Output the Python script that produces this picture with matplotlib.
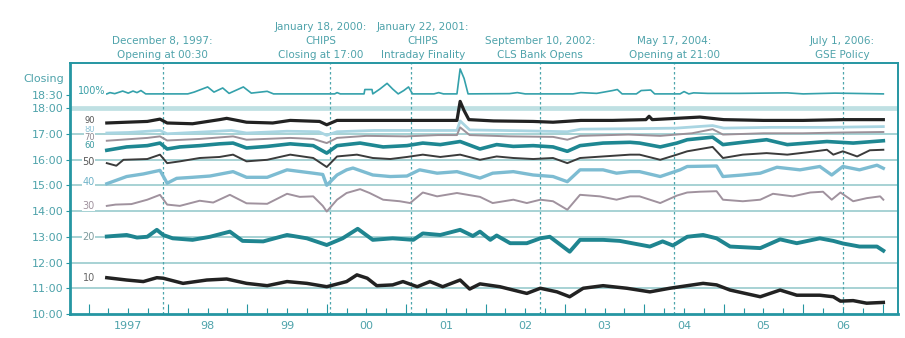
import matplotlib
matplotlib.use("Agg")
import matplotlib.pyplot as plt
import pandas as pd
from matplotlib.ticker import MultipleLocator

# ---- data: decimal year vs clock time (hours) of payment percentiles ----
p10_t = [1997.23, 1997.48, 1997.69, 1997.86, 1997.94, 1998.19, 1998.49, 1998.74, 1998.99, 1999.25,
         1999.50, 1999.75, 2000.00, 2000.25, 2000.38, 2000.51, 2000.63, 2000.83, 2000.96, 2001.14,
         2001.30, 2001.46, 2001.68, 2001.80, 2001.93, 2002.18, 2002.52, 2002.69, 2002.90, 2003.06,
         2003.23, 2003.48, 2003.78, 2004.07, 2004.32, 2004.54, 2004.74, 2004.91, 2005.08, 2005.46,
         2005.71, 2005.92, 2006.21, 2006.38, 2006.47, 2006.63, 2006.80, 2007.01]
p10_h = [11.41, 11.32, 11.26, 11.41, 11.39, 11.19, 11.32, 11.36, 11.19, 11.10,
         11.26, 11.19, 11.06, 11.26, 11.52, 11.39, 11.10, 11.13, 11.26, 11.06,
         11.26, 11.06, 11.32, 10.97, 11.17, 11.06, 10.80, 11.00, 10.86, 10.67,
         11.00, 11.10, 11.00, 10.86, 11.00, 11.10, 11.19, 11.13, 10.93, 10.67,
         10.93, 10.73, 10.73, 10.67, 10.50, 10.52, 10.42, 10.45]

p20_t = [1997.23, 1997.48, 1997.61, 1997.74, 1997.86, 1997.94, 1998.06, 1998.31, 1998.53, 1998.78,
         1998.94, 1999.20, 1999.50, 1999.75, 2000.00, 2000.20, 2000.39, 2000.58, 2000.83, 2001.09,
         2001.21, 2001.43, 2001.68, 2001.84, 2001.93, 2002.06, 2002.14, 2002.31, 2002.52, 2002.69,
         2002.81, 2003.06, 2003.19, 2003.48, 2003.69, 2004.07, 2004.23, 2004.36, 2004.54, 2004.74,
         2004.91, 2005.08, 2005.46, 2005.71, 2005.92, 2006.21, 2006.38, 2006.50, 2006.71, 2006.93,
         2007.01]
p20_h = [13.01, 13.07, 12.97, 13.00, 13.27, 13.07, 12.94, 12.88, 13.00, 13.20,
         12.84, 12.82, 13.07, 12.94, 12.68, 12.94, 13.31, 12.88, 12.94, 12.88,
         13.13, 13.07, 13.27, 13.03, 13.20, 12.88, 13.05, 12.75, 12.75, 12.94,
         13.00, 12.42, 12.88, 12.88, 12.84, 12.62, 12.82, 12.66, 13.00, 13.07,
         12.94, 12.62, 12.56, 12.90, 12.75, 12.94, 12.84, 12.74, 12.62, 12.62,
         12.46]

p30_t = [1997.23, 1997.34, 1997.54, 1997.74, 1997.90, 1997.99, 1998.15, 1998.40, 1998.57, 1998.78,
         1998.99, 1999.25, 1999.50, 1999.66, 1999.83, 1999.95, 2000.00, 2000.13, 2000.25, 2000.42,
         2000.54, 2000.71, 2000.92, 2001.05, 2001.21, 2001.39, 2001.64, 2001.93, 2002.09, 2002.35,
         2002.52, 2002.69, 2002.85, 2003.03, 2003.19, 2003.44, 2003.65, 2003.82, 2003.94, 2004.20,
         2004.41, 2004.54, 2004.70, 2004.91, 2004.99, 2005.24, 2005.46, 2005.62, 2005.87, 2006.09,
         2006.25, 2006.36, 2006.47, 2006.63, 2006.80, 2006.97, 2007.01]
p30_h = [14.20, 14.25, 14.27, 14.44, 14.63, 14.25, 14.20, 14.40, 14.33, 14.63,
         14.30, 14.28, 14.67, 14.55, 14.57, 14.20, 13.98, 14.44, 14.70, 14.85,
         14.70, 14.44, 14.38, 14.31, 14.72, 14.57, 14.70, 14.55, 14.31, 14.44,
         14.31, 14.44, 14.38, 14.05, 14.63, 14.57, 14.44, 14.57, 14.57, 14.31,
         14.60, 14.72, 14.75, 14.77, 14.44, 14.38, 14.44, 14.67, 14.57, 14.72,
         14.75, 14.44, 14.72, 14.38, 14.50, 14.57, 14.44]

p40_t = [1997.23, 1997.48, 1997.69, 1997.90, 1997.99, 1998.11, 1998.31, 1998.53, 1998.82, 1998.99,
         1999.25, 1999.50, 1999.83, 1999.95, 2000.00, 2000.13, 2000.25, 2000.33, 2000.58, 2000.80,
         2001.01, 2001.17, 2001.39, 2001.64, 2001.93, 2002.09, 2002.35, 2002.60, 2002.85, 2003.03,
         2003.19, 2003.48, 2003.65, 2003.82, 2003.94, 2004.20, 2004.45, 2004.54, 2004.91, 2004.99,
         2005.24, 2005.46, 2005.67, 2005.96, 2006.21, 2006.36, 2006.50, 2006.71, 2006.93, 2007.01]
p40_h = [15.06, 15.34, 15.44, 15.58, 15.08, 15.27, 15.31, 15.36, 15.53, 15.31,
         15.31, 15.60, 15.47, 15.42, 15.00, 15.40, 15.60, 15.67, 15.40, 15.34,
         15.36, 15.60, 15.47, 15.53, 15.28, 15.47, 15.53, 15.40, 15.34, 15.14,
         15.60, 15.60, 15.47, 15.53, 15.53, 15.34, 15.60, 15.73, 15.75, 15.34,
         15.40, 15.47, 15.70, 15.60, 15.73, 15.40, 15.73, 15.60, 15.78, 15.66]

p50_t = [1997.23, 1997.35, 1997.44, 1997.74, 1997.90, 1997.99, 1998.15, 1998.40, 1998.65, 1998.82,
         1998.99, 1999.25, 1999.54, 1999.83, 2000.00, 2000.13, 2000.38, 2000.58, 2000.80, 2001.01,
         2001.21, 2001.43, 2001.68, 2001.93, 2002.14, 2002.35, 2002.60, 2002.85, 2003.03, 2003.19,
         2003.48, 2003.82, 2003.94, 2004.20, 2004.41, 2004.54, 2004.86, 2004.99, 2005.24, 2005.54,
         2005.80, 2006.05, 2006.30, 2006.38, 2006.50, 2006.68, 2006.84, 2007.01]
p50_h = [15.86, 15.76, 15.99, 16.02, 16.19, 15.86, 15.93, 16.06, 16.10, 16.19,
         15.93, 15.99, 16.19, 16.06, 15.71, 16.12, 16.19, 16.06, 16.02, 16.10,
         16.19, 16.10, 16.19, 15.99, 16.12, 16.06, 16.02, 16.06, 15.86, 16.06,
         16.12, 16.19, 16.19, 15.99, 16.19, 16.32, 16.49, 16.06, 16.19, 16.25,
         16.19, 16.28, 16.38, 16.19, 16.32, 16.12, 16.36, 16.38]

p60_t = [1997.23, 1997.48, 1997.74, 1997.90, 1997.99, 1998.15, 1998.40, 1998.65, 1998.82, 1998.99,
         1999.25, 1999.54, 1999.83, 2000.00, 2000.13, 2000.42, 2000.71, 2001.01, 2001.21, 2001.43,
         2001.68, 2001.93, 2002.14, 2002.35, 2002.60, 2002.85, 2003.03, 2003.19, 2003.48, 2003.82,
         2003.94, 2004.20, 2004.41, 2004.54, 2004.86, 2004.99, 2005.24, 2005.54, 2005.80, 2006.05,
         2006.30, 2006.63, 2007.01]
p60_h = [16.36, 16.49, 16.54, 16.64, 16.41, 16.49, 16.54, 16.61, 16.64, 16.45,
         16.51, 16.61, 16.54, 16.25, 16.54, 16.64, 16.49, 16.54, 16.64, 16.58,
         16.70, 16.41, 16.58, 16.51, 16.54, 16.49, 16.32, 16.54, 16.64, 16.67,
         16.64, 16.49, 16.64, 16.77, 16.87, 16.58, 16.67, 16.77, 16.58, 16.64,
         16.70, 16.64, 16.73]

p70_t = [1997.23, 1997.74, 1997.90, 1997.99, 1998.40, 1998.82, 1998.99, 1999.54, 1999.83, 2000.00,
         2000.13, 2000.50, 2001.00, 2001.40, 2001.64, 2001.68, 2001.80, 2002.30, 2002.85, 2003.03,
         2003.19, 2003.80, 2004.20, 2004.60, 2004.86, 2004.99, 2005.50, 2006.00, 2006.50, 2007.01]
p70_h = [16.73, 16.84, 16.90, 16.74, 16.80, 16.90, 16.77, 16.84, 16.80, 16.64,
         16.84, 16.92, 16.90, 16.95, 16.95, 17.25, 16.95, 16.90, 16.88, 16.77,
         16.92, 16.97, 16.92, 17.02, 17.18, 16.97, 17.02, 17.02, 17.05, 17.07]

p80_t = [1997.23, 1997.50, 1997.90, 1997.99, 1998.50, 1998.80, 1998.99, 1999.50, 1999.90, 2000.00,
         2000.13, 2000.60, 2001.20, 2001.64, 2001.68, 2001.80, 2002.40, 2003.03, 2003.20, 2003.90,
         2004.40, 2004.86, 2005.00, 2005.60, 2006.30, 2007.01]
p80_h = [17.03, 17.05, 17.13, 17.00, 17.08, 17.13, 17.03, 17.10, 17.08, 16.94,
         17.08, 17.13, 17.13, 17.13, 17.50, 17.15, 17.12, 17.08, 17.18, 17.20,
         17.22, 17.32, 17.22, 17.25, 17.25, 17.28]

p90_t = [1997.23, 1997.48, 1997.74, 1997.90, 1997.99, 1998.31, 1998.65, 1998.74, 1998.99, 1999.32,
         1999.54, 1999.91, 2000.00, 2000.13, 2000.60, 2001.00, 2001.40, 2001.64, 2001.68, 2001.73,
         2001.79, 2002.10, 2002.60, 2002.85, 2003.20, 2003.60, 2004.02, 2004.06, 2004.10, 2004.70,
         2005.00, 2005.50, 2006.00, 2006.50, 2007.01]
p90_h = [17.42, 17.45, 17.48, 17.57, 17.42, 17.39, 17.55, 17.60, 17.45, 17.42,
         17.52, 17.48, 17.35, 17.52, 17.52, 17.52, 17.52, 17.52, 18.26, 17.90,
         17.55, 17.50, 17.48, 17.45, 17.52, 17.52, 17.55, 17.68, 17.55, 17.65,
         17.55, 17.52, 17.52, 17.55, 17.55]

p100_t = [1997.23, 1997.27, 1997.33, 1997.43, 1997.50, 1997.56, 1997.61, 1997.66, 1997.72, 1998.25,
          1998.33, 1998.50, 1998.58, 1998.69, 1998.77, 1998.95, 1999.05, 1999.25, 1999.33, 2000.10,
          2000.13, 2000.17, 2000.47, 2000.48, 2000.57, 2000.58, 2000.67, 2000.76, 2000.83, 2000.90,
          2000.97, 2001.03, 2001.08, 2001.35, 2001.41, 2001.47, 2001.64, 2001.68, 2001.73, 2001.78,
          2002.30, 2002.40, 2002.50, 2003.10, 2003.20, 2003.40, 2003.60, 2003.66, 2003.72, 2003.90,
          2003.96, 2004.08, 2004.13, 2004.45, 2004.50, 2004.56, 2004.62, 2004.80, 2005.20, 2005.80,
          2006.00, 2006.40, 2007.01]
p100_h = [18.55, 18.60, 18.56, 18.66, 18.58, 18.66, 18.60, 18.68, 18.55, 18.55,
          18.62, 18.82, 18.62, 18.78, 18.57, 18.82, 18.58, 18.65, 18.55, 18.55,
          18.60, 18.55, 18.55, 18.72, 18.72, 18.55, 18.74, 18.96, 18.74, 18.55,
          18.68, 18.82, 18.55, 18.55, 18.60, 18.55, 18.55, 19.52, 19.15, 18.55,
          18.56, 18.60, 18.55, 18.55, 18.60, 18.57, 18.68, 18.72, 18.55, 18.55,
          18.68, 18.70, 18.55, 18.55, 18.64, 18.55, 18.59, 18.57, 18.57, 18.59,
          18.55, 18.58, 18.55]

event_dates = ["1997-12-08", "2000-01-18", "2001-01-22", "2002-09-10", "2004-05-17", "2006-07-01"]
event_text = ["December 8, 1997:\nOpening at 00:30",
              "January 18, 2000:\nCHIPS\nClosing at 17:00",
              "January 22, 2001:\nCHIPS\nIntraday Finality",
              "September 10, 2002:\nCLS Bank Opens",
              "May 17, 2004:\nOpening at 21:00",
              "July 1, 2006:\nGSE Policy"]

years = [1997, 1998, 1999, 2000, 2001, 2002, 2003, 2004, 2005, 2006]
year_labels = ["1997", "98", "99", "00", "01", "02", "03", "04", "05", "06"]
hour_ticks = [10, 11, 12, 13, 14, 15, 16, 17, 18, 18.5]

# ---- styles ----
TEAL = "#2596a2"
TXT = "#4fa3ab"
GRID = "#a7d2d4"

# (t, h, line colour, lw, label, label hour, label x, label colour, label size)
styles = [
    (p80_t, p80_h, "#a9d5e2", 2.0, "80", 17.17, 1997.08, "#8cc3d6", 6),
    (p70_t, p70_h, "#9c9199", 1.4, "70", 16.86, 1997.08, "#8d8890", 6),
    (p60_t, p60_h, "#1e8792", 2.6, "60", 16.55, 1997.08, "#3a9aa0", 6),
    (p50_t, p50_h, "#3b3b3b", 1.4, "50", 15.91, 1997.08, "#555555", 7),
    (p40_t, p40_h, "#7dbcd2", 2.4, "40", 15.14, 1997.08, "#6fb3c8", 7),
    (p30_t, p30_h, "#a0929e", 1.4, "30", 14.20, 1997.08, "#a0929e", 7),
    (p20_t, p20_h, "#1f8590", 2.8, "20", 13.00, 1997.08, "#7d9a9c", 7),
    (p10_t, p10_h, "#222222", 2.5, "10", 11.40, 1997.08, "#666666", 7),
    (p90_t, p90_h, "#222222", 2.3, "90", 17.50, 1997.08, "#555555", 6),
    (p100_t, p100_h, "#34a1ab", 1.2, "100%", 18.68, 1997.21, "#3aa0a8", 7),
]


def decyear(s):
    d = pd.Timestamp(s)
    return d.year + (d.dayofyear - 1) / 365.0


fig = plt.figure(figsize=(9.05, 3.38), dpi=100)
ax = fig.add_axes([0.0773, 0.0710, 0.9149, 0.7426])
ax.set_xlim(1996.766, 2007.194)
ax.set_ylim(10.0, 19.75)

# hour gridlines
for h in range(11, 19):
    if h == 18:
        ax.axhline(h, color="#bfe0e3", lw=3.4, zorder=1)
    else:
        ax.axhline(h, color=GRID, lw=1.4, zorder=1)

# event markers
for d in event_dates:
    ax.axvline(decyear(d), color="#4ea6ad", lw=0.9, ls=(0, (2, 2)), zorder=1.5)

for t, h, c, lw, name, lh, lx, lc, fs in styles:
    ax.plot(t, h, color=c, lw=lw, solid_joinstyle="round", zorder=3)
    ax.text(lx, lh, name, fontsize=fs, color=lc, ha="right", va="center", zorder=4,
            bbox=dict(boxstyle="square,pad=0.05", fc="white", ec="none"))

# event annotations
offsets = [0, -7, 9, 0, 0, 0]
for d, txt, dx in zip(event_dates, event_text, offsets):
    ax.annotate(txt, xy=(decyear(d), 1), xycoords=("data", "axes fraction"),
                xytext=(dx, 2.5), textcoords="offset points", ha="center", va="bottom",
                fontsize=7.5, color=TXT, linespacing=1.45, annotation_clip=False)

# axes styling
for side, sp in ax.spines.items():
    sp.set_color(TEAL)
    sp.set_linewidth(2.0 if side in ("left", "bottom") else 1.4)

ax.xaxis.set_major_locator(MultipleLocator(1))
ax.xaxis.set_minor_locator(MultipleLocator(0.25))
ax.tick_params(axis="x", which="major", direction="in", length=7, width=0.8,
               color=TEAL, labelbottom=False)
ax.tick_params(axis="x", which="minor", direction="in", length=4, width=0.8, color=TEAL)
for y, lab in zip(years, year_labels):
    ax.annotate(lab, xy=(y + 0.5, 0), xycoords=("data", "axes fraction"),
                xytext=(0, -5), textcoords="offset points", ha="center", va="top",
                fontsize=8, color=TXT, annotation_clip=False)

ax.set_yticks(hour_ticks)
ax.set_yticklabels([f"{int(h):02d}:{int(round((h % 1) * 60)):02d}" for h in hour_ticks])
ax.tick_params(axis="y", direction="out", length=3, width=0.8, color=TEAL,
               labelsize=8, labelcolor=TXT, pad=1.5)
ax.annotate("Closing", xy=(0, 19.14), xycoords=("axes fraction", "data"),
            xytext=(-4.5, 0), textcoords="offset points", ha="right", va="center",
            fontsize=8, color=TXT, annotation_clip=False)

fig.savefig("out.png", dpi=100)
